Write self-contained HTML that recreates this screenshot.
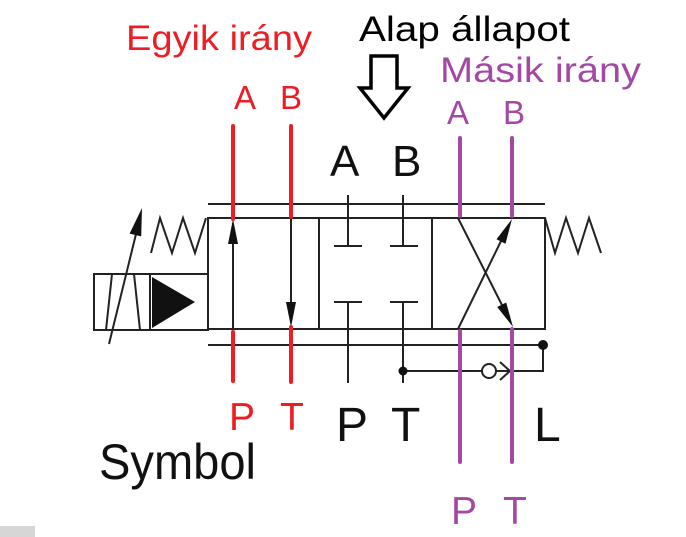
<!DOCTYPE html>
<html><head><meta charset="utf-8"><style>
html,body{margin:0;padding:0;background:#fff;}
svg{display:block;}
text{font-family:"Liberation Sans",sans-serif;}
</style></head><body>
<svg width="686" height="537" viewBox="0 0 686 537" xmlns="http://www.w3.org/2000/svg">
<g stroke="#222" stroke-width="2" fill="none">
<line x1="208" y1="204" x2="545" y2="204"/>
<line x1="208" y1="345" x2="543" y2="345"/>
<rect x="208" y="218" width="337" height="111"/>
<line x1="319" y1="218" x2="319" y2="329"/>
<line x1="432" y1="218" x2="432" y2="329"/>
<rect x="94" y="274" width="114" height="56"/>
<line x1="150" y1="274" x2="150" y2="330"/>
<line x1="112" y1="274" x2="106" y2="330"/>
<line x1="134" y1="274" x2="140" y2="330"/>
<polyline points="151,253 160,218 172,253 183,218 195,253 206,218"/>
<polyline points="545,218 555,253 566,218 578,253 589,218 601,253"/>
<line x1="348" y1="195" x2="348" y2="246"/>
<line x1="334" y1="246" x2="362" y2="246"/>
<line x1="348" y1="302" x2="348" y2="383"/>
<line x1="334" y1="302" x2="362" y2="302"/>
<line x1="403" y1="195" x2="403" y2="246"/>
<line x1="390" y1="246" x2="418" y2="246"/>
<line x1="403" y1="302" x2="403" y2="383"/>
<line x1="390" y1="302" x2="418" y2="302"/>
<polyline points="543,345 543,371 403,371"/>
<circle cx="489" cy="371" r="7" fill="#fff"/>
<polyline points="500,362 510,371 500,380"/>
<line x1="458" y1="218" x2="504" y2="309"/>
<line x1="458" y1="329" x2="503" y2="237"/>
<line x1="233" y1="329" x2="233" y2="240"/>
<line x1="291" y1="218" x2="291" y2="306"/>
<line x1="109" y1="344" x2="137" y2="230"/>
</g>
<g fill="#111">
<path d="M233,219 L238,244 L228,244 z"/>
<path d="M291,327 L296,302 L286,302 z"/>
<path d="M513,327 L506.2,302.5 L497.2,307 z"/>
<path d="M512,219 L505.5,243.7 L496.5,239.3 z"/>
<path d="M142,208 L141.2,236.4 L129.6,233.6 z"/>
<path d="M152,277 L152,328 L195,302 z"/>
<circle cx="543" cy="345" r="5"/>
<circle cx="403" cy="371" r="4.5"/>
</g>
<g stroke="#ee1c25" stroke-width="4" stroke-linecap="round">
<line x1="233" y1="126" x2="233" y2="219"/>
<line x1="233" y1="332" x2="233" y2="381"/>
<line x1="291" y1="126" x2="291" y2="217"/>
<line x1="291" y1="327" x2="291" y2="382"/>
</g>
<g stroke="#a349a4" stroke-width="4" stroke-linecap="round">
<line x1="460" y1="138" x2="460" y2="216"/>
<line x1="460" y1="331" x2="460" y2="462"/>
<line x1="512" y1="138" x2="512" y2="216"/>
<line x1="512" y1="329" x2="512" y2="462"/>
</g>
<path d="M371,56 L397,56 L397,88 L408,88 L384,118 L360,88 L371,88 z" fill="#fff" stroke="#000" stroke-width="3.5"/>
<text x="126" y="50" font-size="35" fill="#ee1c25" textLength="186" lengthAdjust="spacingAndGlyphs">Egyik irány</text>
<text x="359" y="41" font-size="35" fill="#000" textLength="211" lengthAdjust="spacingAndGlyphs">Alap állapot</text>
<text x="440" y="82" font-size="35" fill="#a349a4" textLength="201" lengthAdjust="spacingAndGlyphs">Másik irány</text>
<text x="234" y="109" font-size="33" fill="#ee1c25">A</text>
<text x="280" y="109" font-size="33" fill="#ee1c25">B</text>
<text x="447" y="124" font-size="33" fill="#a349a4">A</text>
<text x="503" y="124" font-size="33" fill="#a349a4">B</text>
<text x="330" y="176" font-size="44" fill="#111">A</text>
<text x="392" y="176" font-size="44" fill="#111">B</text>
<text x="229" y="430" font-size="39" fill="#ee1c25">P</text>
<text x="280" y="430" font-size="39" fill="#ee1c25">T</text>
<text x="336" y="441" font-size="48" fill="#111">P</text>
<text x="391" y="441" font-size="48" fill="#111">T</text>
<text x="534" y="441" font-size="48" fill="#111">L</text>
<text x="451" y="524" font-size="39" fill="#a349a4">P</text>
<text x="503" y="524" font-size="39" fill="#a349a4">T</text>
<text x="99" y="479" font-size="50" fill="#111" textLength="157" lengthAdjust="spacingAndGlyphs">Symbol</text>
<rect x="0" y="526" width="35" height="11" fill="#bbb" opacity="0.6"/>
</svg>
</body></html>
